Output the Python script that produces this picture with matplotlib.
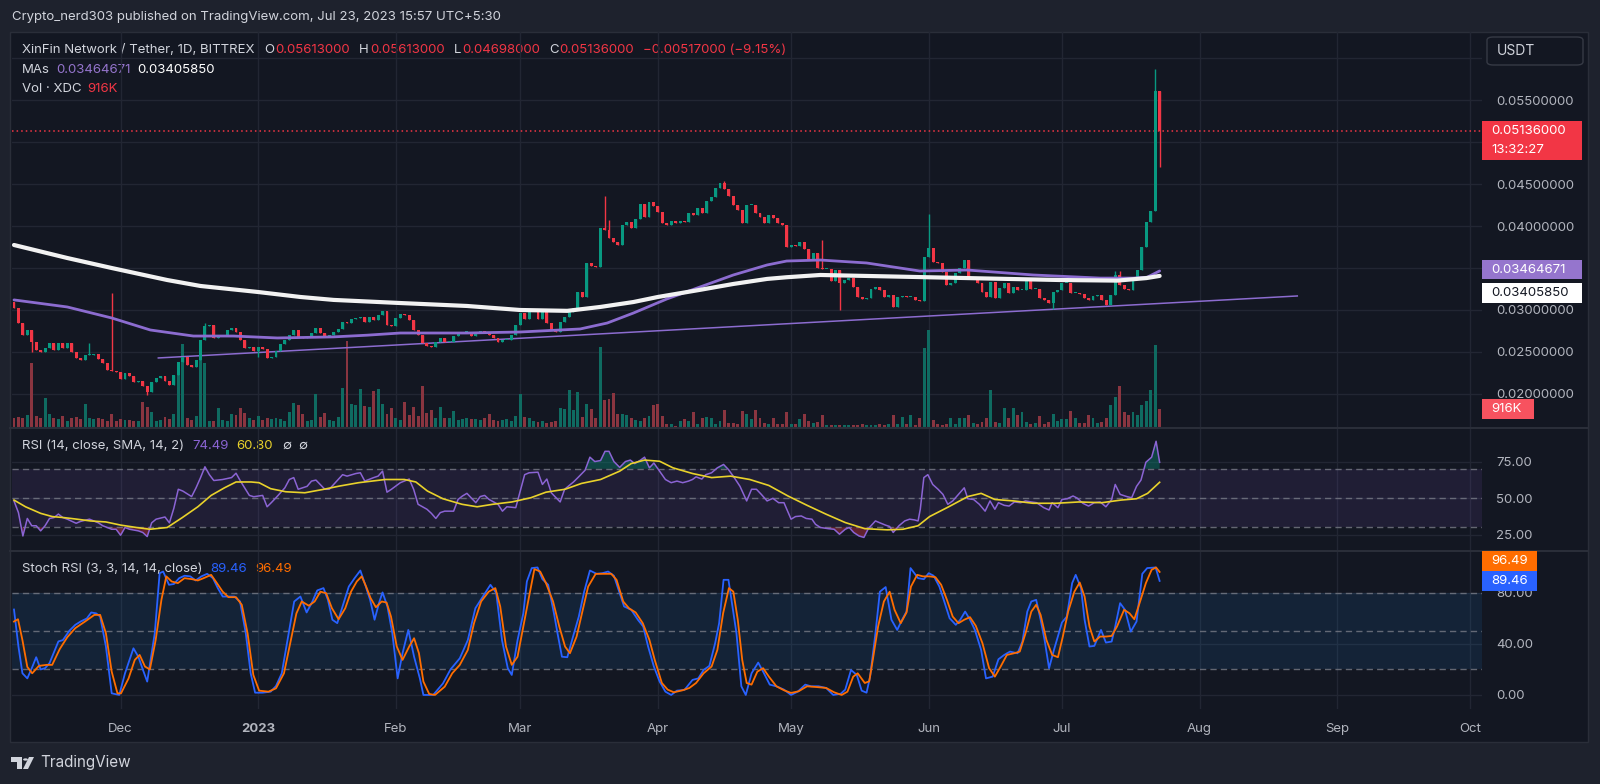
import matplotlib
matplotlib.use("Agg")
import matplotlib.pyplot as plt
from matplotlib.patches import Rectangle, FancyBboxPatch, Polygon, Circle
from matplotlib.lines import Line2D
from matplotlib.transforms import blended_transform_factory
import numpy as np
import pandas as pd

plt.rcParams["font.family"] = ["Inter", "DejaVu Sans"]

W, H = 1600, 784
BG_OUT = "#1e222d"
BG = "#131722"
GRID = "#222633"
TXT = "#d1d4dc"
AX_TXT = "#b2b5be"
UP = "#089981"
DOWN = "#f23645"

# ---- data (daily candles from 2022-11-07) ----
first_day = "2022-11-07"
first_open = 0.0310
closes = [
    0.03020, 0.02842, 0.02703, 0.02762, 0.02623, 0.02524, 0.02504, 0.02544, 0.02604, 0.02524,
    0.02604, 0.02544, 0.02612, 0.02504, 0.02425, 0.02405, 0.02465, 0.02465, 0.02477, 0.02413,
    0.02365, 0.02286, 0.02278, 0.02266, 0.02175, 0.02254, 0.02215, 0.02147, 0.02159, 0.02095,
    0.02028, 0.02147, 0.02187, 0.02215, 0.02159, 0.02107, 0.02226, 0.02385, 0.02445, 0.02346,
    0.02326, 0.02405, 0.02643, 0.02810, 0.02822, 0.02663, 0.02691, 0.02703, 0.02762, 0.02782,
    0.02743, 0.02643, 0.02544, 0.02564, 0.02516, 0.02564, 0.02532, 0.02425, 0.02445, 0.02516,
    0.02596, 0.02643, 0.02703, 0.02762, 0.02683, 0.02663, 0.02683, 0.02723, 0.02782, 0.02731,
    0.02683, 0.02703, 0.02743, 0.02770, 0.02862, 0.02850, 0.02889, 0.02901, 0.02921, 0.02862,
    0.02921, 0.02881, 0.02941, 0.02993, 0.02822, 0.02810, 0.02901, 0.02949,
    0.02940, 0.02881, 0.02762, 0.02702, 0.02611, 0.02571, 0.02563, 0.02623, 0.02663, 0.02623,
    0.02623, 0.02690, 0.02730, 0.02742, 0.02742, 0.02690, 0.02742, 0.02754, 0.02722, 0.02702,
    0.02663, 0.02623, 0.02643, 0.02643, 0.02702, 0.02821, 0.02960, 0.02889, 0.02980, 0.02980,
    0.02889, 0.02980, 0.02841, 0.02762, 0.02742, 0.02861, 0.02921, 0.02980, 0.03020, 0.03218,
    0.03159, 0.03556, 0.03524, 0.03516, 0.03973, 0.03953, 0.03854, 0.03814, 0.03774, 0.04012,
    0.04052, 0.03973, 0.04080, 0.04262, 0.04112, 0.04290, 0.04239, 0.04171, 0.04032, 0.04012,
    0.04064, 0.04032, 0.04064, 0.04052, 0.04159, 0.04131, 0.04211, 0.04151, 0.04302, 0.04342,
    0.04449, 0.04509, 0.04437, 0.04362, 0.04251, 0.04191, 0.04040, 0.04251, 0.04251, 0.04159,
    0.04112, 0.04032, 0.04131, 0.04092, 0.04032, 0.04012, 0.03746, 0.03774, 0.03762, 0.03814,
    0.03723, 0.03596, 0.03675, 0.03496,
    0.03484, 0.03484, 0.03349, 0.03476, 0.03325, 0.03357, 0.03377, 0.03277, 0.03150, 0.03127,
    0.03138, 0.03246, 0.03277, 0.03238, 0.03158, 0.03178, 0.03039, 0.03150, 0.03166, 0.03150,
    0.03150, 0.03119, 0.03111, 0.03635, 0.03734, 0.03575, 0.03555, 0.03456, 0.03297, 0.03325,
    0.03436, 0.03496, 0.03595, 0.03377, 0.03377, 0.03317, 0.03218, 0.03150, 0.03337, 0.03138,
    0.03258, 0.03325, 0.03198, 0.03277, 0.03238, 0.03238, 0.03357, 0.03246, 0.03246, 0.03138,
    0.03119, 0.03079, 0.03218, 0.03238, 0.03317, 0.03317, 0.03198, 0.03198, 0.03190, 0.03138,
    0.03119, 0.03166, 0.03178, 0.03119, 0.03059, 0.03178, 0.03416, 0.03297, 0.03246, 0.03238,
    0.03397, 0.03476, 0.03746, 0.04044, 0.04179, 0.05613, 0.05136,
]
# visible wicks (candle index -> price)
wick_hi = {22: 0.0320, 17: 0.0261, 43: 0.0284, 133: 0.04358, 134: 0.04072, 160: 0.04540,
           182: 0.03833, 206: 0.04143, 248: 0.03468, 249: 0.03468, 257: 0.0587, 258: 0.05613}
wick_lo = {4: 0.0250, 30: 0.0199, 55: 0.0244, 186: 0.0300, 234: 0.03008, 258: 0.04698}

volumes_k = [
    500, 520, 480, 600, 3100, 560, 500, 1440, 650, 500,
    420, 580, 340, 500, 530, 420, 1170, 460, 420, 500,
    420, 340, 660, 340, 420, 370, 370, 340, 340, 1250,
    1000, 780, 340, 370, 530, 420, 660, 2740, 4050, 500,
    370, 580, 4180, 3140, 340, 340, 940, 370, 340, 690,
    620, 940, 740, 500, 380, 580, 370, 500, 420, 500,
    420, 340, 780, 1220, 1100, 690, 340, 370, 1620, 530,
    740, 370, 340, 530, 1940, 4180, 1170, 1090, 1860, 1060,
    1020, 1780, 1890, 1170, 660, 980, 500, 370, 1270, 600,
    1010, 580, 2000, 700, 880, 460, 1010, 460, 500, 820,
    370, 450, 480, 420, 440, 390, 500, 650, 400, 330,
    380, 420, 350, 580, 1620, 530, 460, 330, 300, 330,
    260, 300, 340, 980, 900, 1810, 850, 1730, 530, 1140,
    900, 500, 3890, 1360, 1380, 1660, 650, 690, 620, 500,
    370, 330, 500, 580, 1090, 1140, 580, 210, 180, 100,
    330, 420, 330, 780, 180, 500, 530, 500, 210, 330,
    850, 260, 260, 180, 820, 660, 420, 880, 500, 260,
    180, 500, 180, 180, 780, 180, 180, 420, 660, 330,
    260, 300, 620, 150, 120, 130, 150, 130, 150, 120,
    150, 200, 150, 130, 150, 200, 150, 200, 620, 200,
    550, 180, 620, 150, 480, 3860, 4690, 400, 200, 150,
    200, 480, 200, 480, 480, 620, 250, 200, 300, 480,
    1810, 300, 250, 980, 500, 980, 620, 780, 300, 200,
    250, 560, 200, 300, 690, 350, 420, 420, 800, 480,
    250, 250, 600, 480, 250, 300, 500, 1100, 1490, 2020,
    780, 600, 780, 640, 1100, 1300, 1810, 4000, 916,
]

# moving averages (candle index, price)
ma_white = [(0, 0.03774), (12, 0.03619), (22, 0.0350), (34.5, 0.03357), (42, 0.03286),
            (55, 0.03214), (64.5, 0.03155), (72, 0.0312), (87, 0.03083), (102, 0.03048),
            (114, 0.0300), (124.6, 0.0299), (132, 0.03036), (139.5, 0.03095), (145, 0.03155),
            (154.5, 0.0324), (162, 0.0331), (169.6, 0.0337), (174, 0.0339), (181.6, 0.03417),
            (205.7, 0.0339), (235.6, 0.03357), (248.5, 0.0335), (255, 0.0338), (258, 0.0340585)]
ma_purple = [(0, 0.0312), (12, 0.03036), (22, 0.02905), (30.7, 0.02762), (40.4, 0.0269),
             (49.4, 0.0269), (59.3, 0.02667), (72, 0.0268), (79.5, 0.0270), (87, 0.02726),
             (102, 0.02726), (114, 0.02738), (127.5, 0.02774), (133.6, 0.02845), (139.5, 0.02964),
             (147, 0.03131), (154.5, 0.03274), (162, 0.03417), (169.6, 0.03536), (174, 0.03583),
             (181.6, 0.03595), (192, 0.0356), (204, 0.03464), (214.7, 0.03476), (229.5, 0.03417),
             (244.6, 0.0338), (252, 0.0338), (255.2, 0.0339), (258, 0.03464671)]
trend_line = [(32.5, 0.02429), (289, 0.03167)]

rsi_pts = [(0, 48), (1, 40), (2, 24), (3, 36), (4, 31), (5, 31), (6, 27.5), (7, 31), (8, 36), (9, 36.6),
           (10, 39), (11, 36.6), (12, 35.5), (14, 32.7), (15, 34), (17, 35.5), (19, 33), (20, 31),
           (22, 28.6), (23, 28.6), (24, 24.5), (25, 29.8), (26, 28.6), (28, 27.5), (29, 26.4),
           (30, 23.6), (31, 33), (32, 35.5), (34, 37), (35, 33), (36, 43), (37, 56), (38, 54.8),
           (40, 51), (41, 57), (42, 63.9), (43, 71.4), (44, 66), (45, 62), (47, 62.7), (49, 64),
           (50, 67), (51, 61.6), (53, 51.8), (54, 50.9), (56, 51.8), (57, 44), (58, 47), (59, 50.2),
           (61, 57), (62, 62.7), (63, 64), (64, 56), (66, 58), (67, 61.6), (68, 62.3), (70, 56),
           (71, 56), (72, 59.3), (74, 66), (75, 65), (77, 66.8), (78, 67.3), (79, 61.6), (81, 64),
           (82, 65), (83, 68.4), (84, 54), (85, 56), (87, 60.5), (89, 63), (90, 56), (91, 45.7),
           (93, 42.3), (94, 39.5), (95, 36), (96, 40), (97, 41), (99, 41), (100, 49), (101, 51.4),
           (102, 53.2), (104, 46.8), (105, 51), (106, 51.8), (107, 49), (109, 45.7), (110, 41),
           (111, 44), (113, 43.4), (114, 54.8), (115, 66), (116, 67.3), (118, 67.7), (119, 59.3),
           (120, 63), (121, 53.6), (123, 47.3), (124, 56), (126, 61), (127, 64),
           (128.6, 69), (129.7, 78), (130.8, 75), (132.1, 75.7), (133.1, 82), (134, 82),
           (135.1, 75), (136.4, 71), (137.7, 75), (138.8, 76), (139.8, 73.6), (141.1, 76),
           (142, 78), (143.1, 70.7), (144.1, 74), (145.4, 68.4), (146.7, 62.7), (148, 60.5),
           (149.3, 61.6), (150.6, 60.5), (151.9, 61.6), (152.8, 62.7), (153.6, 64.5), (154.9, 63),
           (155.8, 66), (157.1, 67.3), (158.4, 70.7), (159.8, 73), (160.9, 69.5), (162.2, 64),
           (163.5, 58), (165, 48), (166.1, 56), (167.2, 56), (168.3, 52.5), (169.6, 48),
           (170.9, 49.8), (172.2, 46.8), (173.4, 46.8), (175, 35.5), (176, 37.3), (177.3, 37.7),
           (178.4, 36), (179.7, 35.5), (180.5, 32), (181.6, 29.8), (183.4, 29), (184.7, 28.6),
           (185.9, 25.2), (187.2, 28.6), (188.1, 29.8), (189.1, 26.4), (190.3, 24), (191.4, 23),
           (192.4, 29), (194, 34.3), (195, 33), (196.3, 31.4), (197.2, 30.5), (198, 26.4),
           (199.3, 31), (200.6, 34.3), (201.7, 35.5), (202.8, 35), (203.6, 34.3), (204.1, 42.3),
           (204.9, 64), (205.8, 66), (206.9, 59.3), (208.1, 56), (209.2, 52.5), (210.3, 45.7),
           (211.4, 48), (212.7, 52.5), (214, 57), (214.8, 49.5), (216.1, 49), (217.4, 45.7),
           (218.7, 41), (219.8, 48), (220.9, 42.3), (221.7, 46.8), (223, 45), (224.1, 44.5),
           (225.3, 47.3), (226.7, 46.8), (227.8, 48), (229.1, 47.3), (230.3, 46.8), (231.9, 43.4),
           (233.1, 41.8), (233.8, 46.8), (235.1, 43.4), (236, 49), (237.2, 49.5), (238.5, 51.4),
           (239.4, 50), (240.7, 46.4), (242, 44.5), (243.3, 46.8), (244.6, 47.3), (245.9, 44),
           (247.2, 49), (248, 59.3), (249.1, 52.5), (250.6, 51), (251.7, 50.2), (252.8, 58),
           (253.8, 62.3), (254.9, 74.5), (256.2, 78), (257.2, 88.9), (258, 74.49)]
rsi_ma_pts = [(0, 48.6), (2.6, 44), (6, 39.5), (8.6, 37.3), (11.2, 36.6), (14.2, 35.5), (17.2, 34.3),
              (20.7, 33.6), (24.1, 31.4), (27.6, 29.8), (30.6, 28.6), (34.5, 29.8), (37.9, 36.6),
              (41.4, 44), (44.4, 51.8), (47.4, 57), (50, 61), (53.4, 61), (55.2, 60.5), (57.8, 56.4),
              (61.2, 54.3), (65.5, 53.6), (69.8, 56), (73.3, 58.2), (77.6, 60.5), (83.6, 62.7),
              (87.9, 62.7), (90.5, 61), (93.1, 54.8), (96.6, 49.5), (100.9, 45.7), (104.3, 44),
              (107.8, 45.7), (112.1, 47.3), (116.4, 50.2), (119.8, 54), (124.1, 56), (127.8, 60),
              (132.1, 62.7), (136.4, 68.4), (139, 73.6), (142, 76), (145.4, 75.2), (148.4, 70.7),
              (152.8, 66.8), (157.1, 64), (161.4, 65), (165.7, 62.7), (170, 58.6), (174.3, 51.4),
              (178.6, 45), (182.9, 38.9), (187.2, 33.2), (191.6, 29), (196.7, 28.2), (200.2, 28.6),
              (203.6, 31), (206.2, 37.3), (210.5, 44), (214.8, 51), (217.8, 53.2), (220.9, 49),
              (225.2, 48), (229.5, 46.4), (234.7, 46.4), (239.8, 47.3), (245, 46.8), (249.3, 48.6),
              (252.8, 49.5), (255.3, 53.2), (258, 60.8)]

stoch_k_pts = [(0, 67), (1, 38), (1.9, 17), (3, 13), (4, 21), (5, 29.6), (6, 20), (7, 21), (8, 25),
               (10, 42), (11, 43), (12.5, 50.5), (13.8, 55), (15, 57.6), (16.4, 60), (17.4, 64.7),
               (18.5, 64), (19.4, 61.5), (20.7, 38), (22, 1.3), (23.7, 0), (25, 17), (26.9, 36.6),
               (28, 30), (28.9, 21), (30, 10.5), (31, 32.7), (31.7, 48.4), (32.8, 95.5), (33.6, 96.8),
               (34.9, 86.4), (36, 87), (37.2, 91.6), (38.4, 93.5), (39.7, 93), (40.9, 89.8),
               (42.2, 93), (43.5, 95), (44.8, 91.6), (45.9, 83.8), (47, 77.2), (48.3, 77.2),
               (49.6, 77.2), (50.9, 73.3), (52.2, 48.4), (53.3, 17), (54.3, 1.8), (56, 1.8),
               (57.8, 2.6), (59, 7), (60.3, 17), (61.6, 43), (63.1, 73.3), (64.5, 77.2), (65.9, 64.7),
               (67.1, 72.5), (68.3, 82), (69.7, 83.8), (70.7, 74.6), (71.7, 59), (72.8, 56.3),
               (74.1, 70.7), (75.4, 85), (76.7, 91.6), (78, 97.6), (79.1, 86.4), (80.2, 74.6),
               (81.2, 59), (82.3, 73.3), (83, 80.4), (84.1, 69.4), (85.2, 48.4), (86.4, 13),
               (87.5, 32.7), (88.8, 51), (90.1, 30), (91.4, 13), (92.2, 0), (94.4, 0), (96.6, 9),
               (98.3, 20), (100.4, 28.8), (102.2, 43), (103.9, 68), (105.6, 77.2), (107.3, 86.4),
               (108.6, 80), (109.9, 43), (111.2, 21), (112.1, 15.7), (113.4, 43), (114.7, 64),
               (115.5, 89), (116.6, 99.5), (117.9, 100), (119, 90.8), (120.3, 86.4), (121.6, 64),
               (122.4, 48.4), (123.4, 30), (124.6, 29.6), (125.9, 45.8), (127.2, 61.5), (128.4, 81),
               (129.7, 97.6), (131.2, 95), (132.5, 95.5), (133.8, 96.8), (135.1, 93.5), (136.4, 80),
               (137.4, 69.4), (139, 66.8), (140.5, 59), (141.7, 53.7), (142.8, 38), (144.1, 22.3),
               (145.4, 10.5), (146.7, 2.6), (148, 0), (149.3, 3.4), (151, 4), (152.8, 11.8),
               (154.1, 13), (155.3, 19.6), (156.6, 22.8), (157.9, 40.6), (158.8, 56.3), (159.8, 90.3),
               (160.9, 90.3), (161.8, 69.4), (162.7, 48.4), (163.8, 6.8), (164.8, 0), (166.1, 17),
               (167.6, 25.4), (168.9, 17), (170.2, 8.1), (171.7, 6.8), (173.4, 4.2), (175, 0),
               (176.5, 2.6), (178.2, 8.1), (179.5, 6.8), (181.2, 6.8), (182.9, 5.5), (184.5, 0),
               (186.2, 1), (187.2, 4.2), (188.5, 19.6), (189.8, 15.7), (190.9, 3.4), (192, 1.8),
               (192.8, 14.4), (194, 48.4), (195, 81), (196.3, 84.6), (197.6, 59), (198.9, 51),
               (200, 59), (201, 65.4), (201.9, 99.5), (203.6, 91.6), (204.9, 90.8), (206, 95.5),
               (207.1, 93.5), (208.4, 85), (209.5, 73.3), (210.7, 60.2), (212.1, 55), (213.1, 59),
               (214.2, 65.4), (215.3, 59), (216.4, 51), (217.8, 35.3), (218.9, 13), (220.4, 14.4),
               (221.7, 28), (223, 31.4), (224.3, 34), (226, 32.7), (227.1, 41.9), (228.2, 65.4),
               (229.1, 73.3), (230.2, 74.6), (231.2, 59), (232.1, 43), (233.1, 21), (234.2, 35.3),
               (236, 56.8), (237.1, 61.5), (238.3, 87.7), (239.1, 94.2), (240.3, 83.8), (241.1, 59),
               (242.2, 38), (243.3, 38.5), (244.8, 51), (245.9, 41.1), (247.2, 41.9), (248, 53.7),
               (249.1, 72), (250.2, 66.8), (251.5, 49.7), (252.8, 57.6), (254.1, 95), (255.2, 99.5),
               (257.1, 100), (258, 89.46)]
stoch_d_pts = [(0, 57.6), (0.9, 59.4), (1.9, 43), (3, 22), (4.1, 17), (5.6, 22.8), (7.3, 23.6),
               (8.6, 23.6), (10.3, 36), (12, 45.3), (13.8, 52.4), (16, 57.6), (18.1, 62.8),
               (19.4, 62.8), (20.7, 48.4), (22, 18.3), (23.3, 1.3), (24.1, 1.3), (25.8, 13),
               (27.2, 27.5), (28.3, 31.4), (29.5, 22.3), (30.6, 20), (31.9, 43), (33.2, 74.6),
               (34.3, 93), (35.5, 89), (36.9, 87.7), (38.4, 91.6), (40.1, 90.8), (41.4, 89.8),
               (42.7, 91.6), (44.4, 94.2), (45.7, 87.7), (47, 81), (48.3, 76.7), (50, 76.7),
               (51.3, 70.7), (52.6, 48.4), (53.9, 15.7), (55.2, 3.4), (57.3, 2.6), (59, 5.2),
               (60.8, 17), (62.2, 40.6), (63.6, 64), (64.8, 73.3), (66.4, 70), (67.7, 73.3), (69, 81),
               (70.3, 79.8), (71.6, 68), (73.1, 59.4), (74.6, 68), (75.9, 81), (77.2, 89), (78.3, 93),
               (79.3, 85), (80.3, 76), (81.5, 68.8), (82.8, 73.3), (83.9, 72.5), (84.9, 61.5),
               (86.2, 38), (87.5, 27.5), (89, 38), (90.1, 44.5), (91.2, 32.7), (92.2, 10.5),
               (93.5, 0.8), (94.8, 0), (97, 6.5), (98.7, 17), (100.4, 23.6), (102.2, 35.3),
               (103.6, 56.3), (105.2, 73.3), (106.9, 81), (108.4, 83.8), (109.5, 69.4), (110.8, 38),
               (112.1, 23.6), (113.4, 30), (114.7, 53.7), (116, 77.2), (117.2, 98.7), (118.5, 96.8),
               (119.8, 87.7), (121.4, 73.3), (122.8, 53.7), (124.1, 38), (125.2, 32.7), (126.7, 45.8),
               (128, 65.4), (129.3, 85), (131, 95), (132.9, 95), (134.5, 95), (135.7, 90.3),
               (137.2, 73.3), (138.5, 68), (140, 64.7), (141.6, 56.3), (143.1, 43.2), (144.3, 27.5),
               (145.9, 9.4), (147.2, 4.2), (148.6, 2.1), (150.6, 3.7), (152.1, 5.5), (153.6, 9.4),
               (155.3, 17), (157.1, 22.3), (158.4, 35.3), (159.7, 64.1), (161, 83.8), (162, 81),
               (163, 59), (164, 27.5), (165, 9.4), (166.1, 8.1), (167.4, 18.3), (168.7, 21),
               (170, 14.4), (171.7, 6.8), (173.4, 3.7), (175, 1.6), (176.7, 2.9), (178.6, 6.8),
               (180.5, 6.3), (182.9, 5.5), (184.7, 2.1), (186.4, 0), (187.7, 2.6), (189, 14.4),
               (190, 17), (191.6, 9.4), (192.6, 10.7), (193.4, 27.5), (194.6, 53.7), (195.9, 73.3),
               (197.2, 81), (198.3, 66.8), (199.7, 56.3), (201, 64.7), (202, 85), (203.4, 94.2),
               (204.7, 93), (206.2, 93), (207.5, 92.4), (208.8, 86.4), (210.1, 74.6), (211.4, 61.5),
               (212.7, 56.3), (214, 59), (215.3, 61), (216.6, 54.2), (218.1, 40.6), (219.6, 21),
               (220.9, 14.4), (222.2, 22.3), (223.6, 31.4), (225.2, 32.7), (226.5, 34), (227.8, 48.4),
               (229.1, 65.4), (230.2, 70.7), (231.2, 62.8), (232.5, 43.2), (233.8, 31.4),
               (235.1, 29.6), (236.2, 45.8), (237.4, 65.4), (238.8, 81), (240, 88.2), (241.1, 77.2),
               (242.2, 53.7), (243.3, 41.9), (244.6, 45.8), (245.9, 45.8), (247.2, 46.3),
               (248.4, 53.7), (250, 66.8), (251.2, 64.1), (252.3, 59.4), (253.6, 73.3), (254.9, 87.7),
               (256.2, 98.2), (257.2, 100), (258, 96.49)]

month_labels = ["Dec", "2023", "Feb", "Mar", "Apr", "May", "Jun", "Jul", "Aug", "Sep", "Oct"]
price_ticks = [0.020, 0.025, 0.030, 0.035, 0.040, 0.045, 0.050, 0.055, 0.060]
hidden_price_labels = [0.035, 0.050, 0.060]   # covered by badges / currency box

# ---- derived ----
c = np.array(closes)
o = np.concatenate([[first_open], c[:-1]])
n = len(c)
xi = np.arange(n)
hi = np.maximum(o, c)
lo = np.minimum(o, c)
for i, v in wick_hi.items():
    hi[i] = v
for i, v in wick_lo.items():
    lo[i] = v
up = c >= o
start = pd.Timestamp(first_day)
month_pos = [(d - start).days for d in pd.date_range("2022-12-01", "2023-10-01", freq="MS")]
XL = (-0.45, 330.6)

fig = plt.figure(figsize=(W / 100, H / 100), dpi=100)
fig.patch.set_facecolor(BG_OUT)
fig.add_artist(Rectangle((10 / W, 1 - 742 / H), 1578 / W, 710 / H, transform=fig.transFigure,
                         fc=BG, ec="#2a2e39", lw=1, zorder=-5))


def px_axes(x0, y0, x1, y1):
    a = fig.add_axes([x0 / W, 1 - y1 / H, (x1 - x0) / W, (y1 - y0) / H])
    a.set_facecolor("none")
    for s in a.spines.values():
        s.set_visible(False)
    a.set_xlim(*XL)
    a.set_xticks(month_pos)
    a.grid(True, color=GRID, lw=1)
    a.set_axisbelow(True)
    a.yaxis.tick_right()
    a.tick_params(axis="y", length=0, pad=10, labelcolor=AX_TXT, labelsize=9.5)
    a.tick_params(axis="x", length=0, labelbottom=False)
    return a


# ---- main pane ----
ax = px_axes(12, 32, 1482, 428)
ax.set_ylim(0.01595, 0.0631)
ax.set_yticks(price_ticks)
ax.set_yticklabels(["" if any(abs(p - h) < 1e-9 for h in hidden_price_labels) else f"{p:.8f}"
                    for p in price_ticks])

vol_tr = blended_transform_factory(ax.transData, ax.transAxes)
vcol = np.where(up, "#0f6b61", "#8a3540")
ax.bar(xi, np.array(volumes_k) / 19000.0, bottom=0, width=0.66, color=vcol, lw=0,
       transform=vol_tr, zorder=1)

ax.plot(*zip(*trend_line), color="#8c6cd0", lw=1.1, zorder=2)
ax.axhline(closes[-1], color=DOWN, lw=1.1, ls=(0, (1, 2)), zorder=2)

ccol = np.where(up, UP, DOWN)
ax.vlines(xi, lo, hi, colors=ccol, lw=1, zorder=3)
ax.bar(xi, np.maximum(np.abs(c - o), 0.00012), bottom=np.minimum(o, c), width=0.66,
       color=ccol, lw=0, zorder=3.1)

ax.plot(*zip(*ma_purple), color="#8c6cd0", lw=2.0, zorder=4, solid_capstyle="round")
ax.plot(*zip(*ma_white), color="#f2f2f2", lw=3.0, zorder=4.2, solid_capstyle="round")

# ---- RSI pane ----
ar = px_axes(12, 429, 1482, 551)
ar.set_ylim(13.7, 97.3)
ar.set_yticks([25, 50, 75])
ar.set_yticklabels(["25.00", "50.00", "75.00"])
ar.axhspan(30, 70, color="#7e57c2", alpha=0.12, lw=0)
for lv in (70, 50, 30):
    ar.axhline(lv, color="#787b86", lw=1, ls=(0, (4.5, 3)), alpha=0.8)
rx, rv = map(np.array, zip(*rsi_pts))
ar.fill_between(rx, rv, 70, where=rv > 70, interpolate=True, color=UP, alpha=0.35, lw=0)
ar.fill_between(rx, rv, 30, where=rv < 30, interpolate=True, color=DOWN, alpha=0.35, lw=0)
ar.plot(rx, rv, color="#8b64d4", lw=1.1)
ar.plot(*zip(*rsi_ma_pts), color="#e9d22b", lw=1.2)

# ---- Stoch RSI pane ----
ast = px_axes(12, 551, 1482, 709)
ast.set_ylim(-11, 112.9)
ast.set_yticks([0, 40, 80])
ast.set_yticklabels(["0.00", "40.00", "80.00"])
ast.axhspan(20, 80, color="#2196f3", alpha=0.1, lw=0)
for lv in (80, 50, 20):
    ast.axhline(lv, color="#787b86", lw=1, ls=(0, (4.5, 3)), alpha=0.8)
ast.plot(*zip(*stoch_k_pts), color="#2962ff", lw=1.3)
ast.plot(*zip(*stoch_d_pts), color="#ff6d00", lw=1.3)
ast.set_xticklabels(month_labels)
ast.tick_params(axis="x", labelbottom=True, pad=10, labelcolor=AX_TXT, labelsize=9.5)
for t in ast.get_xticklabels():
    if t.get_text() == "2023":
        t.set_fontweight("bold")

# pane separators
for yy in (428.5, 551):
    fig.add_artist(Line2D([10 / W, 1588 / W], [1 - yy / H] * 2, transform=fig.transFigure,
                          color="#2a2e39", lw=1.5))

# ---- texts ----
rend = fig.canvas.get_renderer()


def seq_text(x, y, parts, size=9.5):
    for s, col, gap in parts:
        t = fig.text(x / W, 1 - y / H, s, color=col, fontsize=size, ha="left", va="center", zorder=-1)
        x += t.get_window_extent(rend).width + gap


fig.text(12 / W, 1 - 17 / H, "Crypto_nerd303 published on TradingView.com, Jul 23, 2023 15:57 UTC+5:30",
         color=TXT, fontsize=9.5, ha="left", va="center")
seq_text(22, 50, [("XinFin Network / Tether, 1D, BITTREX", TXT, 10),
                  ("O", TXT, 1), ("0.05613000", DOWN, 9),
                  ("H", TXT, 1), ("0.05613000", DOWN, 9),
                  ("L", TXT, 1), ("0.04698000", DOWN, 9),
                  ("C", TXT, 1), ("0.05136000", DOWN, 9),
                  ("\u22120.00517000 (\u22129.15%)", DOWN, 0)])
seq_text(22, 70, [("MAs", TXT, 6), ("0.03464671", "#9575cd", 7), ("0.03405850", "#ffffff", 0)])
seq_text(22, 89, [("Vol \u00b7 XDC", TXT, 6), ("916K", DOWN, 0)])
seq_text(22, 446, [("RSI (14, close, SMA, 14, 2)", TXT, 8), ("74.49", "#8b64d4", 8),
                   ("60.80", "#e9d22b", 9), ("\u2205", TXT, 7), ("\u2205", TXT, 0)])
seq_text(22, 569, [("Stoch RSI (3, 3, 14, 14, close)", TXT, 8), ("89.46", "#2962ff", 8),
                   ("96.49", "#ff6d00", 0)])


def badge(yd, lines, fc, tc, w, h=19):
    if len(lines) == 1:
        fig.add_artist(Rectangle((1482 / W, (yd - h / 2) / H), w / W, h / H,
                                 transform=fig.transFigure, fc=fc, ec="none", zorder=5))
        fig.text(1491 / W, yd / H, lines[0], color=tc, fontsize=9.5, ha="left", va="center", zorder=6)
    else:
        fig.add_artist(Rectangle((1482 / W, (yd - 29) / H), w / W, 39 / H,
                                 transform=fig.transFigure, fc=fc, ec="none", zorder=5))
        fig.text(1491 / W, yd / H, lines[0], color=tc, fontsize=9.5, ha="left", va="center", zorder=6)
        fig.text(1491 / W, (yd - 19) / H, lines[1], color=tc, fontsize=9.5, ha="left",
                 va="center", zorder=6)


def dy(a, v):
    return a.transData.transform((0, v))[1]


badge(dy(ax, closes[-1]), ["0.05136000", "13:32:27"], DOWN, "#ffffff", 100)
badge(dy(ax, ma_purple[-1][1]) + 1, ["0.03464671"], "#9575cd", "#ffffff", 100)
badge(dy(ax, ma_white[-1][1]) - 17, ["0.03405850"], "#ffffff", "#131722", 100, h=20)
badge(ax.transAxes.transform((1, volumes_k[-1] / 19000.0))[1], ["916K"], "#f7525f", "#ffffff", 52, h=20)
badge(dy(ast, stoch_d_pts[-1][1]) + 11, ["96.49"], "#ff6d00", "#ffffff", 55, h=20)
badge(dy(ast, stoch_k_pts[-1][1]), ["89.46"], "#2962ff", "#ffffff", 55, h=20)

# currency box
fig.add_artist(FancyBboxPatch((1487 / W, 1 - 65 / H), 96 / W, 28 / H, transform=fig.transFigure,
                              boxstyle="round,pad=0,rounding_size=0.004", fc=BG, ec="#363a45", lw=1))
fig.text(1497 / W, 1 - 51 / H, "USDT", color=TXT, fontsize=10, ha="left", va="center")


# TradingView logo
def pxy(pts):
    return [(px / W, 1 - py / H) for px, py in pts]


fig.add_artist(Polygon(pxy([(11, 757), (22, 757), (22, 769), (17, 769), (17, 762), (11, 762)]),
                       closed=True, transform=fig.transFigure, fc=TXT, ec="none"))
fig.add_artist(Circle((25.5 / W, 1 - 759.5 / H), 2.4 / W, transform=fig.transFigure, fc=TXT, ec="none"))
fig.add_artist(Polygon(pxy([(29, 757), (34, 757), (28, 769), (23, 769)]),
                       closed=True, transform=fig.transFigure, fc=TXT, ec="none"))
fig.text(40 / W, 1 - 763 / H, "TradingView", color=TXT, fontsize=11, ha="left", va="center")

fig.savefig("out.png", dpi=100, facecolor=fig.get_facecolor())
